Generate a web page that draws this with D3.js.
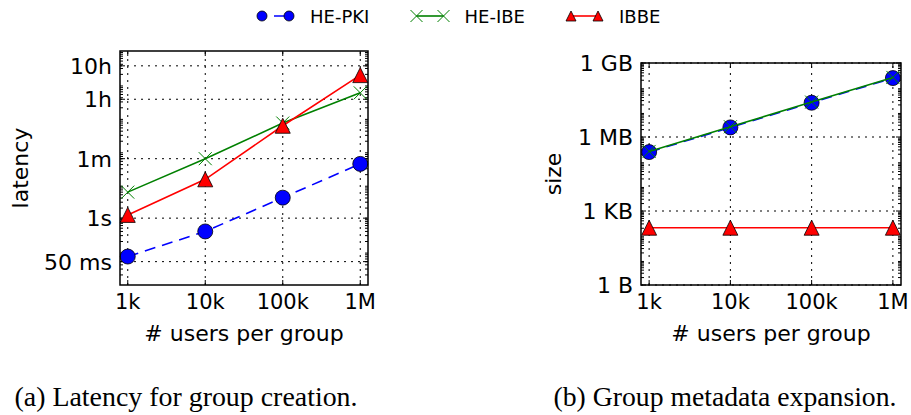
<!DOCTYPE html>
<html>
<head>
<meta charset="utf-8">
<script src="https://cdn.jsdelivr.net/npm/d3@7/dist/d3.min.js"></script>
<style>
  html, body { margin: 0; padding: 0; background: #fff; }
  svg { display: block; }
  text { font-family: "DejaVu Sans", sans-serif; fill: #000; }
  .caption { font-family: "Liberation Serif", serif; }
</style>
</head>
<body>
<svg id="fig" width="911" height="415"></svg>
<script>
// ---- data -------------------------------------------------------------
const groupSizes = [1e3, 1e4, 1e5, 1e6];
const groupSizeLabels = ["1k", "10k", "100k", "1M"];
const seriesNames = ["HE-PKI", "HE-IBE", "IBBE"];

// (a) latency of group creation, in seconds
const latencyHEPKI = [0.071, 0.40, 4.1, 42];
const latencyHEIBE = [6.0, 60, 700, 5600];
const latencyIBBE  = [1.25, 14.5, 580, 19000];

// (b) group metadata size, in bytes
const sizeHEPKI = [2.45e5, 2.45e6, 2.45e7, 2.45e8];
const sizeHEIBE = [2.6e5, 2.6e6, 2.6e7, 2.6e8];
const sizeIBBE  = [210, 210, 210, 210];

// tick values and labels
const latencyTicks = [36000, 3600, 60, 1, 0.05];
const latencyTickLabels = ["10h", "1h", "1m", "1s", "50 ms"];
const sizeTicks = [1e9, 1e6, 1e3, 1];
const sizeTickLabels = ["1 GB", "1 MB", "1 KB", "1 B"];

// ---- styles -----------------------------------------------------------
const styles = [
  { color: "#0000ff", dash: "11,7", marker: "circle" },
  { color: "#008000", dash: null,   marker: "x" },
  { color: "#ff0000", dash: null,   marker: "triangle" }
];

const svg = d3.select("#fig");
svg.append("rect").attr("width", 911).attr("height", 415).attr("fill", "#fff");

function drawMarker(g, kind, x, y, color, s) {
  if (kind === "circle") {
    g.append("circle").attr("cx", x).attr("cy", y).attr("r", s)
      .attr("fill", color).attr("stroke", "#000").attr("stroke-width", 0.8);
  } else if (kind === "triangle") {
    const h = s;
    g.append("path")
      .attr("d", `M${x},${y - h}L${x + h},${y + h}L${x - h},${y + h}Z`)
      .attr("fill", color).attr("stroke", "#000").attr("stroke-width", 0.8);
  } else {
    g.append("path")
      .attr("d", `M${x - s},${y - s}L${x + s},${y + s}M${x - s},${y + s}L${x + s},${y - s}`)
      .attr("fill", "none").attr("stroke", color).attr("stroke-width", 1);
  }
}

function minorValues(lo, hi) {
  const out = [];
  for (let k = Math.floor(Math.log10(lo)); k <= Math.ceil(Math.log10(hi)); k++) {
    for (let i = 2; i <= 9; i++) {
      const v = i * Math.pow(10, k);
      if (v > lo && v < hi) out.push(v);
    }
  }
  return out;
}

function panel(opts) {
  const { left, right, top, bottom, yDomain, yTicks, yLabels, yTitle, series, caption, captionX, yTitleX } = opts;
  const x = d3.scaleLog().domain([Math.pow(10, 2.9), Math.pow(10, 6.1)]).range([left, right]);
  const y = d3.scaleLog().domain(yDomain).range([bottom, top]);
  const g = svg.append("g");

  // dotted grid
  const grid = g.append("g").attr("stroke", "#000").attr("stroke-width", 1)
    .attr("stroke-dasharray", "2,5");
  groupSizes.forEach(v => grid.append("line")
    .attr("x1", x(v)).attr("x2", x(v)).attr("y1", bottom).attr("y2", top));
  yTicks.forEach(v => grid.append("line")
    .attr("x1", left).attr("x2", right).attr("y1", y(v)).attr("y2", y(v)));

  // inward ticks on all four sides
  const ticks = g.append("g").attr("stroke", "#000").attr("stroke-width", 1);
  groupSizes.forEach(v => {
    ticks.append("line").attr("x1", x(v)).attr("x2", x(v)).attr("y1", bottom).attr("y2", bottom - 5);
    ticks.append("line").attr("x1", x(v)).attr("x2", x(v)).attr("y1", top).attr("y2", top + 5);
  });
  yTicks.forEach(v => {
    ticks.append("line").attr("x1", left).attr("x2", left + 5).attr("y1", y(v)).attr("y2", y(v));
    ticks.append("line").attr("x1", right).attr("x2", right - 5).attr("y1", y(v)).attr("y2", y(v));
  });
  minorValues(yDomain[0], yDomain[1]).forEach(v => {
    ticks.append("line").attr("x1", left).attr("x2", left + 3).attr("y1", y(v)).attr("y2", y(v));
    ticks.append("line").attr("x1", right).attr("x2", right - 3).attr("y1", y(v)).attr("y2", y(v));
  });

  // series
  series.forEach((vals, si) => {
    const st = styles[si];
    const line = d3.line().x((d, i) => x(groupSizes[i])).y(d => y(d));
    g.append("path").attr("d", line(vals)).attr("fill", "none")
      .attr("stroke", st.color).attr("stroke-width", 1.6)
      .attr("stroke-dasharray", st.dash);
    vals.forEach((v, i) => drawMarker(g, st.marker, x(groupSizes[i]), y(v), st.color,
      st.marker === "circle" ? 7.5 : st.marker === "triangle" ? 7.5 : 6.5));
  });

  // frame
  g.append("rect").attr("x", left).attr("y", top).attr("width", right - left).attr("height", bottom - top)
    .attr("fill", "none").attr("stroke", "#000").attr("stroke-width", 1.5);

  // tick labels
  groupSizes.forEach((v, i) => g.append("text").attr("x", x(v)).attr("y", bottom + 24)
    .attr("text-anchor", "middle").attr("font-size", 21).text(groupSizeLabels[i]));
  yTicks.forEach((v, i) => g.append("text").attr("x", left - 8).attr("y", y(v) + 8)
    .attr("text-anchor", "end").attr("font-size", 22).text(yLabels[i]));

  // axis titles
  const cx = (left + right) / 2;
  g.append("text").attr("x", cx).attr("y", bottom + 56).attr("text-anchor", "middle")
    .attr("font-size", 22).text("# users per group");
  g.append("text").attr("transform", `translate(${yTitleX},${(top + bottom) / 2}) rotate(-90)`)
    .attr("text-anchor", "middle").attr("font-size", 22).text(yTitle);

  // caption
  g.append("text").attr("class", "caption").attr("x", captionX).attr("y", 406)
    .attr("text-anchor", "middle").attr("font-size", 28)
    .attr("textLength", 343).attr("lengthAdjust", "spacingAndGlyphs").text(caption);
}

panel({
  left: 120, right: 368, top: 51, bottom: 285,
  yDomain: [0.01, 1e5], yTicks: latencyTicks, yLabels: latencyTickLabels,
  yTitle: "latency", yTitleX: 28,
  series: [latencyHEPKI, latencyHEIBE, latencyIBBE],
  caption: "(a) Latency for group creation.", captionX: 186
});
panel({
  left: 641, right: 901, top: 63, bottom: 285,
  yDomain: [1, 1e9], yTicks: sizeTicks, yLabels: sizeTickLabels,
  yTitle: "size", yTitleX: 561,
  series: [sizeHEPKI, sizeHEIBE, sizeIBBE],
  caption: "(b) Group metadata expansion.", captionX: 725
});

// legend
const legend = svg.append("g");
const legendX = [262, 416.5, 571];
seriesNames.forEach((name, i) => {
  const st = styles[i];
  const x0 = legendX[i], yc = 16;
  legend.append("line").attr("x1", x0).attr("x2", x0 + 27).attr("y1", yc).attr("y2", yc)
    .attr("stroke", st.color).attr("stroke-width", 1.6)
    .attr("stroke-dasharray", st.dash ? "4,8,12,8" : null);
  drawMarker(legend, st.marker, x0, yc, st.color, st.marker === "x" ? 6 : 5);
  drawMarker(legend, st.marker, x0 + 27, yc, st.color, st.marker === "x" ? 6 : 5);
  legend.append("text").attr("x", x0 + 48).attr("y", yc + 7).attr("font-size", 18).text(name);
});
</script>
</body>
</html>
